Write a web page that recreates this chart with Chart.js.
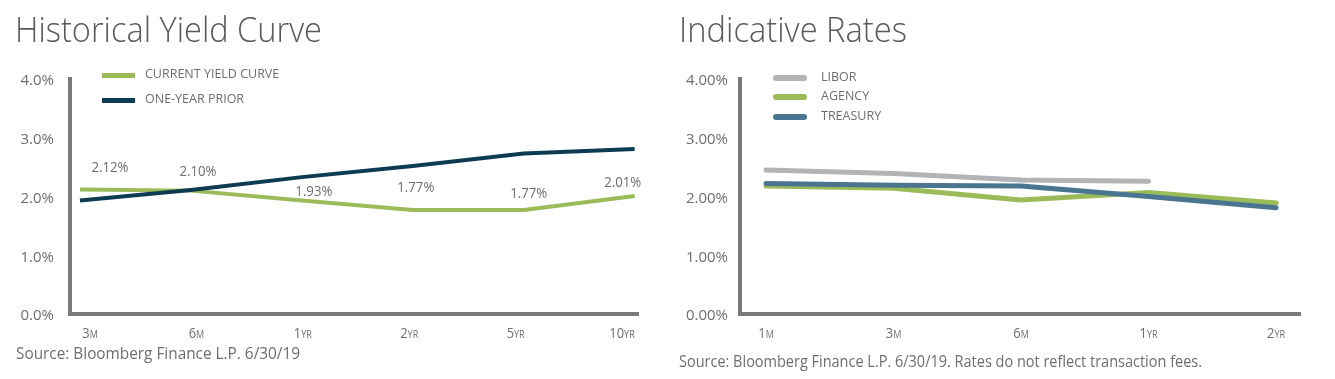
<!DOCTYPE html>
<html><head><meta charset="utf-8">
<script src="https://cdn.jsdelivr.net/npm/chart.js@4.4.1/dist/chart.umd.min.js"></script>
<style>
html,body{margin:0;padding:0;background:#fff;width:1335px;height:379px;overflow:hidden;font-family:"Open Sans",sans-serif;}
.t{position:absolute;white-space:nowrap;line-height:1;transform-origin:0 0;color:#6d6e71;}
.title{font-size:34px;font-weight:300;color:#58595b;}
.src{font-size:16px;}
.leg{font-size:12.5px;}
.sw{position:absolute;}
canvas{position:absolute;top:0;}
</style></head><body>
<canvas id="c1" width="660" height="379" style="left:0"></canvas>
<canvas id="c2" width="675" height="379" style="left:660px"></canvas>
<div class="t title" style="left:15px;top:12px" data-w="307">Historical Yield Curve</div>
<div class="t title" style="left:679px;top:12px" data-w="228">Indicative Rates</div>
<div class="t src" style="left:16px;top:345px" data-w="284">Source: Bloomberg Finance L.P. 6/30/19</div>
<div class="t src" style="left:679px;top:353px" data-w="523">Source: Bloomberg Finance L.P. 6/30/19. Rates do not reflect transaction fees.</div>
<div id="leg"></div>
<script>
// ---- data ----
const yieldTerms = ['3M','6M','1YR','2YR','5YR','10YR'];
const yieldSeriesNames = ['CURRENT YIELD CURVE','ONE-YEAR PRIOR'];
const currentYield = [2.12, 2.10, 1.93, 1.77, 1.77, 2.01];
const priorYield   = [1.93, 2.11, 2.33, 2.52, 2.73, 2.81];
const yieldTicks = [0, 1, 2, 3, 4];

const rateTerms = ['1M','3M','6M','1YR','2YR'];
const rateSeriesNames = ['LIBOR','AGENCY','TREASURY'];
const libor    = [2.45, 2.39, 2.28, 2.26, null];
const agency   = [2.18, 2.14, 1.94, 2.07, 1.89];
const treasury = [2.22, 2.19, 2.18, 2.00, 1.81];
const rateTicks = [0, 1, 2, 3, 4];

// ---- styles ----
const TXT = '#6d6e71';
const AXIS = '#7a7a7a';
const GREEN = '#9bbb59';
const NAVY = '#0d3b52';
const BLUE = '#4a7591';
const GRAY = '#b1b3b4';
const FONT = '"Open Sans", sans-serif';

function pts(arr){ const o=[]; arr.forEach((v,i)=>{ if(v!==null) o.push({x:i,y:v}); }); return o; }

const termLabels = {
  id:'termLabels',
  afterDraw(chart, args, opts){
    const sc = chart.scales[opts.scale];
    const ctx = chart.ctx;
    ctx.save();
    ctx.fillStyle = TXT;
    ctx.textBaseline = 'alphabetic';
    ctx.textAlign = 'left';
    opts.labels.forEach((lab,i)=>{
      const m = lab.match(/^(\d+)(\D+)$/);
      const num = m[1], unit = m[2];
      ctx.font = '15px ' + FONT; const w1 = ctx.measureText(num).width;
      ctx.font = '10.5px ' + FONT; const w2 = ctx.measureText(unit).width;
      const sx = 0.86;
      const total = (w1 + w2) * sx;
      const x0 = sc.getPixelForValue(i) - total/2;
      ctx.save();
      ctx.translate(x0, opts.baseline);
      ctx.scale(sx, 1);
      ctx.font = '15px ' + FONT; ctx.fillText(num, 0, 0);
      ctx.font = '10.5px ' + FONT; ctx.fillText(unit, w1, 0);
      ctx.restore();
    });
    ctx.restore();
  }
};

const valueLabels = {
  id:'valueLabels',
  afterDatasetsDraw(chart, args, opts){
    if(opts.dataset === undefined) return;
    const meta = chart.getDatasetMeta(opts.dataset);
    const ds = chart.data.datasets[opts.dataset];
    const ctx = chart.ctx;
    const a = chart.chartArea;
    ctx.save();
    ctx.beginPath(); ctx.rect(0, 0, a.right + 3, chart.height); ctx.clip();
    ctx.font = '15px ' + FONT; ctx.fillStyle = TXT;
    ctx.textAlign = 'center'; ctx.textBaseline = 'middle';
    meta.data.forEach((pt,i)=>{
      const off = opts.offsets[i];
      ctx.save();
      ctx.translate(pt.x + off[0], pt.y + off[1]);
      ctx.scale(0.88, 1);
      ctx.fillText(ds.data[i].y.toFixed(2) + '%', 0, 0);
      ctx.restore();
    });
    ctx.restore();
  }
};

function yAxis(width, pad, dec, ticks){
  return {
    type:'linear', min:ticks[0], max:ticks[ticks.length-1],
    afterBuildTicks(s){ s.ticks = ticks.map(v=>({value:v})); },
    afterFit(s){ s.width = width; },
    grid:{display:false, drawTicks:false},
    border:{display:true, color:AXIS, width:4},
    ticks:{color:TXT, font:{family:FONT, size:15}, padding:pad, labelOffset:2,
      callback:v=>Number(v).toFixed(dec)+'%'}
  };
}
function xAxis(min,max){
  return {
    type:'linear', min:min, max:max,
    afterFit(s){ s.height = 0; },
    grid:{display:false, drawTicks:false},
    border:{display:true, color:AXIS, width:4},
    ticks:{display:false}
  };
}

// ---- chart 1 ----
new Chart(document.getElementById('c1'), {
  type:'line',
  data:{datasets:[
    {label:yieldSeriesNames[1], data:pts(priorYield), borderColor:NAVY, borderWidth:4, order:0},
    {label:yieldSeriesNames[0], data:pts(currentYield), borderColor:GREEN, borderWidth:4, order:1}
  ]},
  options:{
    responsive:false, animation:false,
    layout:{padding:{top:79, bottom:65, left:0, right:22}},
    elements:{point:{radius:0}, line:{tension:0, borderJoinStyle:'round'}},
    scales:{
      x:xAxis(-0.09, 5.03),
      xl:{type:'linear', display:false, min:-0.188, max:5.15},
      y:yAxis(70, 16, 1, yieldTicks)
    },
    plugins:{legend:{display:false}, tooltip:{enabled:false},
      termLabels:{scale:'xl', labels:yieldTerms, baseline:338},
      valueLabels:{dataset:1, offsets:[[30,-22],[7,-19],[12,-9],[3,-22],[5,-16],[-12,-13]]}
    }
  },
  plugins:[termLabels, valueLabels]
});

// ---- chart 2 ----
new Chart(document.getElementById('c2'), {
  type:'line',
  data:{datasets:[
    {label:rateSeriesNames[2], data:pts(treasury), borderColor:BLUE, borderWidth:5, borderCapStyle:'round', order:0},
    {label:rateSeriesNames[1], data:pts(agency), borderColor:GREEN, borderWidth:5, borderCapStyle:'round', order:1},
    {label:rateSeriesNames[0], data:pts(libor), borderColor:GRAY, borderWidth:5, borderCapStyle:'round', order:2}
  ]},
  options:{
    responsive:false, animation:false,
    layout:{padding:{top:79, bottom:65, left:0, right:35}},
    elements:{point:{radius:0}, line:{tension:0, borderJoinStyle:'round'}},
    scales:{
      x:xAxis(-0.204, 4.188),
      y:yAxis(80, 12, 2, rateTicks)
    },
    plugins:{legend:{display:false}, tooltip:{enabled:false},
      termLabels:{scale:'x', labels:rateTerms, baseline:338}
    }
  },
  plugins:[termLabels]
});

// ---- legends (html) ----
const leg = document.getElementById('leg');
function addLeg(text, color, x, cy, swx, sww, swh, radius){
  const s = document.createElement('div');
  s.className = 'sw';
  s.style.cssText = `left:${swx}px;top:${cy - swh/2}px;width:${sww}px;height:${swh}px;background:${color};border-radius:${radius}px`;
  leg.appendChild(s);
  const t = document.createElement('div');
  t.className = 't leg';
  t.style.left = x + 'px';
  t.style.top = (cy + 4.5 - 0.888*12.5) + 'px';
  t.textContent = text;
  leg.appendChild(t);
}
addLeg(yieldSeriesNames[0], GREEN, 145, 75, 102, 33, 5, 0);
addLeg(yieldSeriesNames[1], NAVY, 145, 100, 102, 33, 5, 0);
addLeg(rateSeriesNames[0], GRAY, 821, 78, 773, 34, 6, 3);
addLeg(rateSeriesNames[1], GREEN, 821, 97, 773, 34, 6, 3);
addLeg(rateSeriesNames[2], BLUE, 821, 117, 773, 34, 6, 3);

// fit texts to measured width
document.querySelectorAll('[data-w]').forEach(el=>{
  const w = el.getBoundingClientRect().width;
  el.style.transform = `scaleX(${(+el.dataset.w)/w})`;
});
</script>
</body></html>
